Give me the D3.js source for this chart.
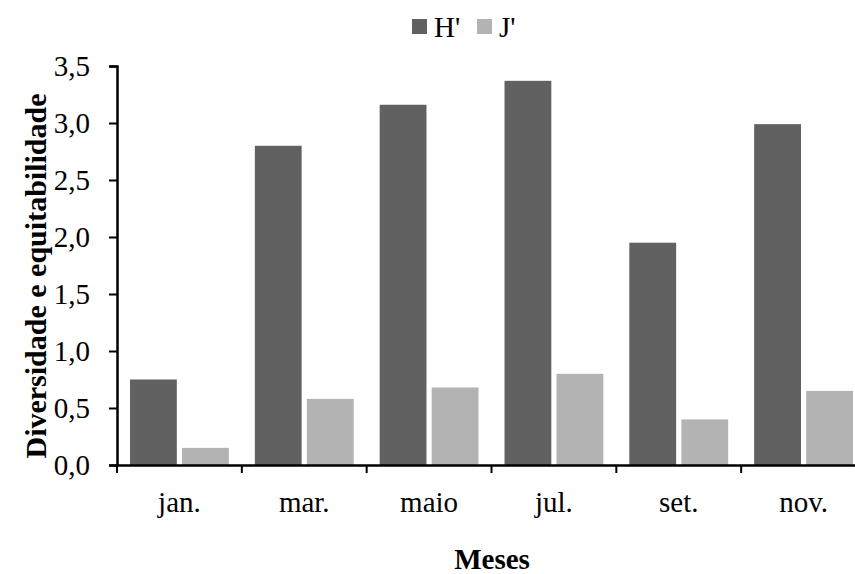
<!DOCTYPE html>
<html>
<head>
<meta charset="utf-8">
<script src="https://cdn.jsdelivr.net/npm/d3@7"></script>
<style>
  body { margin: 0; background: #fff; }
  svg text { font-family: "Liberation Serif", "Times New Roman", serif; fill: #000; }
</style>
</head>
<body>
<svg id="chart"></svg>
<script>
const months = ['jan.', 'mar.', 'maio', 'jul.', 'set.', 'nov.'];
const seriesNames = ["H'", "J'"];
const hValues = [0.75, 2.80, 3.16, 3.37, 1.95, 2.99];
const jValues = [0.15, 0.58, 0.68, 0.80, 0.40, 0.65];
const yTicks = [0, 0.5, 1.0, 1.5, 2.0, 2.5, 3.0, 3.5];
const colors = ['#616161', '#b3b3b3'];

const W = 855, H = 574;
const x0 = 117, x1 = 866, yTop = 66, yBottom = 465;

const svg = d3.select('#chart').attr('width', W).attr('height', H);

const x = d3.scaleBand().domain(months).range([x0, x1]).paddingInner(0).paddingOuter(0);
const xs = d3.scaleBand().domain(seriesNames).range([0, x.bandwidth()]).paddingInner(0.1).paddingOuter(0.25);
const y = d3.scaleLinear().domain([0, 3.5]).range([yBottom, yTop]);

const rows = months.map((m, i) => ({ month: m, vals: [hValues[i], jValues[i]] }));

// bars
svg.append('g').selectAll('g')
    .data(rows)
    .enter().append('g')
    .attr('transform', d => `translate(${x(d.month)},0)`)
    .selectAll('rect')
    .data(d => d.vals.map((v, k) => ({ key: seriesNames[k], v: v, k: k })))
    .enter().append('rect')
    .attr('x', d => xs(d.key))
    .attr('width', xs.bandwidth())
    .attr('y', d => y(d.v))
    .attr('height', d => yBottom - y(d.v))
    .attr('fill', d => colors[d.k]);

// y axis
const fmt = d => d3.format('.1f')(d).replace('.', ',');
const yAxis = svg.append('g')
    .attr('transform', `translate(${x0},0)`)
    .call(d3.axisLeft(y).tickValues(yTicks).tickFormat(fmt).tickSize(8).tickPadding(19));
yAxis.selectAll('text').style('font-size', '29px');

// x axis, ticks sit on the category boundaries
const xAxis = svg.append('g')
    .attr('transform', `translate(0,${yBottom})`)
    .call(d3.axisBottom(x).tickSize(0).tickPadding(26));
xAxis.selectAll('text').style('font-size', '29px');
xAxis.selectAll('.tick').append('line')
    .attr('x1', -x.bandwidth() / 2).attr('x2', -x.bandwidth() / 2)
    .attr('y1', 0).attr('y2', 8);

svg.selectAll('.domain').attr('stroke', '#000').attr('stroke-width', 2.5);
svg.selectAll('.tick line').attr('stroke', '#000').attr('stroke-width', 2);

// axis titles
svg.append('text')
    .attr('transform', `translate(46,276) rotate(-90)`)
    .attr('text-anchor', 'middle')
    .style('font-size', '30px').style('font-weight', 'bold')
    .text('Diversidade e equitabilidade');

svg.append('text')
    .attr('x', 492).attr('y', 569)
    .attr('text-anchor', 'middle')
    .style('font-size', '29px').style('font-weight', 'bold')
    .text('Meses');

// legend
const legend = svg.append('g');
const lx = [412, 477];
seriesNames.forEach((s, i) => {
    legend.append('rect')
        .attr('x', lx[i]).attr('y', 19)
        .attr('width', 15).attr('height', 15)
        .attr('fill', colors[i]);
    legend.append('text')
        .attr('x', lx[i] + 22).attr('y', 37)
        .style('font-size', '29px')
        .text(s);
});
</script>
</body>
</html>
